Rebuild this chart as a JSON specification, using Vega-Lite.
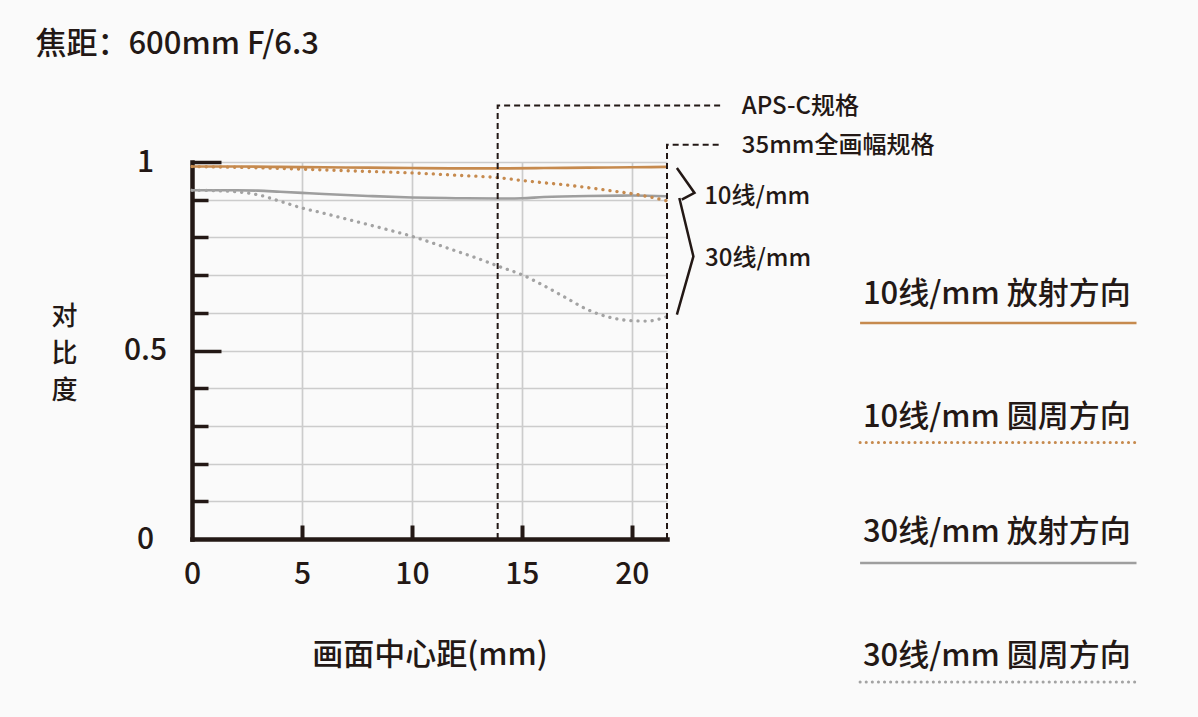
{
  "$schema": "https://vega.github.io/schema/vega-lite/v6.json",
  "width": 475,
  "height": 377,
  "autosize": {"type": "none"},
  "padding": {"left": 192, "top": 162, "right": 531, "bottom": 178},
  "background": "#fafafa",
  "config": {"font": "Noto Sans CJK SC", "view": {"stroke": null}},
  "datasets": {
    "curves": [
      {"series": "10线/mm 放射方向", "kind": "solid", "x": 0, "y": 0.988},
      {"series": "10线/mm 放射方向", "kind": "solid", "x": 2, "y": 0.988},
      {"series": "10线/mm 放射方向", "kind": "solid", "x": 4, "y": 0.987},
      {"series": "10线/mm 放射方向", "kind": "solid", "x": 6, "y": 0.986},
      {"series": "10线/mm 放射方向", "kind": "solid", "x": 8, "y": 0.985},
      {"series": "10线/mm 放射方向", "kind": "solid", "x": 10, "y": 0.984},
      {"series": "10线/mm 放射方向", "kind": "solid", "x": 12, "y": 0.983},
      {"series": "10线/mm 放射方向", "kind": "solid", "x": 14, "y": 0.983},
      {"series": "10线/mm 放射方向", "kind": "solid", "x": 16, "y": 0.984},
      {"series": "10线/mm 放射方向", "kind": "solid", "x": 18, "y": 0.985},
      {"series": "10线/mm 放射方向", "kind": "solid", "x": 20, "y": 0.986},
      {"series": "10线/mm 放射方向", "kind": "solid", "x": 21.6, "y": 0.987},
      {"series": "10线/mm 圆周方向", "kind": "dotted", "x": 0, "y": 0.988},
      {"series": "10线/mm 圆周方向", "kind": "dotted", "x": 2, "y": 0.986},
      {"series": "10线/mm 圆周方向", "kind": "dotted", "x": 4, "y": 0.983},
      {"series": "10线/mm 圆周方向", "kind": "dotted", "x": 6, "y": 0.979},
      {"series": "10线/mm 圆周方向", "kind": "dotted", "x": 8, "y": 0.975},
      {"series": "10线/mm 圆周方向", "kind": "dotted", "x": 10, "y": 0.971},
      {"series": "10线/mm 圆周方向", "kind": "dotted", "x": 12, "y": 0.965},
      {"series": "10线/mm 圆周方向", "kind": "dotted", "x": 14, "y": 0.958},
      {"series": "10线/mm 圆周方向", "kind": "dotted", "x": 15, "y": 0.951},
      {"series": "10线/mm 圆周方向", "kind": "dotted", "x": 16, "y": 0.945},
      {"series": "10线/mm 圆周方向", "kind": "dotted", "x": 17.6, "y": 0.935},
      {"series": "10线/mm 圆周方向", "kind": "dotted", "x": 19, "y": 0.924},
      {"series": "10线/mm 圆周方向", "kind": "dotted", "x": 20, "y": 0.916},
      {"series": "10线/mm 圆周方向", "kind": "dotted", "x": 21, "y": 0.905},
      {"series": "10线/mm 圆周方向", "kind": "dotted", "x": 21.6, "y": 0.897},
      {"series": "30线/mm 放射方向", "kind": "solid", "x": 0, "y": 0.925},
      {"series": "30线/mm 放射方向", "kind": "solid", "x": 2, "y": 0.925},
      {"series": "30线/mm 放射方向", "kind": "solid", "x": 3, "y": 0.924},
      {"series": "30线/mm 放射方向", "kind": "solid", "x": 4, "y": 0.921},
      {"series": "30线/mm 放射方向", "kind": "solid", "x": 5, "y": 0.918},
      {"series": "30线/mm 放射方向", "kind": "solid", "x": 6, "y": 0.915},
      {"series": "30线/mm 放射方向", "kind": "solid", "x": 8, "y": 0.91},
      {"series": "30线/mm 放射方向", "kind": "solid", "x": 10, "y": 0.906},
      {"series": "30线/mm 放射方向", "kind": "solid", "x": 12, "y": 0.904},
      {"series": "30线/mm 放射方向", "kind": "solid", "x": 14, "y": 0.903},
      {"series": "30线/mm 放射方向", "kind": "solid", "x": 15, "y": 0.904},
      {"series": "30线/mm 放射方向", "kind": "solid", "x": 16, "y": 0.907},
      {"series": "30线/mm 放射方向", "kind": "solid", "x": 18, "y": 0.91},
      {"series": "30线/mm 放射方向", "kind": "solid", "x": 20, "y": 0.911},
      {"series": "30线/mm 放射方向", "kind": "solid", "x": 21.6, "y": 0.909},
      {"series": "30线/mm 圆周方向", "kind": "dotted", "x": 0, "y": 0.925},
      {"series": "30线/mm 圆周方向", "kind": "dotted", "x": 1, "y": 0.924},
      {"series": "30线/mm 圆周方向", "kind": "dotted", "x": 2, "y": 0.921},
      {"series": "30线/mm 圆周方向", "kind": "dotted", "x": 3, "y": 0.913},
      {"series": "30线/mm 圆周方向", "kind": "dotted", "x": 4, "y": 0.896},
      {"series": "30线/mm 圆周方向", "kind": "dotted", "x": 5, "y": 0.878},
      {"series": "30线/mm 圆周方向", "kind": "dotted", "x": 6, "y": 0.864},
      {"series": "30线/mm 圆周方向", "kind": "dotted", "x": 7, "y": 0.849},
      {"series": "30线/mm 圆周方向", "kind": "dotted", "x": 8, "y": 0.834},
      {"series": "30线/mm 圆周方向", "kind": "dotted", "x": 9, "y": 0.819},
      {"series": "30线/mm 圆周方向", "kind": "dotted", "x": 10, "y": 0.803},
      {"series": "30线/mm 圆周方向", "kind": "dotted", "x": 11, "y": 0.784},
      {"series": "30线/mm 圆周方向", "kind": "dotted", "x": 12, "y": 0.764},
      {"series": "30线/mm 圆周方向", "kind": "dotted", "x": 13, "y": 0.744},
      {"series": "30线/mm 圆周方向", "kind": "dotted", "x": 14, "y": 0.722},
      {"series": "30线/mm 圆周方向", "kind": "dotted", "x": 15, "y": 0.701},
      {"series": "30线/mm 圆周方向", "kind": "dotted", "x": 16, "y": 0.672},
      {"series": "30线/mm 圆周方向", "kind": "dotted", "x": 17, "y": 0.64},
      {"series": "30线/mm 圆周方向", "kind": "dotted", "x": 18, "y": 0.608},
      {"series": "30线/mm 圆周方向", "kind": "dotted", "x": 19, "y": 0.588},
      {"series": "30线/mm 圆周方向", "kind": "dotted", "x": 20, "y": 0.579},
      {"series": "30线/mm 圆周方向", "kind": "dotted", "x": 20.7, "y": 0.578},
      {"series": "30线/mm 圆周方向", "kind": "dotted", "x": 21.6, "y": 0.59}
    ],
    "refs": [
      {"id": "aps", "i": 0, "x": 13.9, "y": 0},
      {"id": "aps", "i": 1, "x": 13.9, "y": 1.15},
      {"id": "aps", "i": 2, "x": 24.1, "y": 1.15},
      {"id": "ff", "i": 0, "x": 21.6, "y": 0},
      {"id": "ff", "i": 1, "x": 21.6, "y": 1.046},
      {"id": "ff", "i": 2, "x": 24.1, "y": 1.046}
    ],
    "brackets": [
      {"id": "b1", "i": 0, "x": 22.05, "y": 0.984},
      {"id": "b1", "i": 1, "x": 22.85, "y": 0.918},
      {"id": "b1", "i": 2, "x": 22.27, "y": 0.9},
      {"id": "b2", "i": 0, "x": 22.16, "y": 0.9045},
      {"id": "b2", "i": 1, "x": 22.8, "y": 0.7496},
      {"id": "b2", "i": 2, "x": 22.05, "y": 0.595}
    ],
    "notes": [
      {"label": "APS-C规格", "x": 25.0, "y": 1.147},
      {"label": "35mm全画幅规格", "x": 25.0, "y": 1.0435},
      {"label": "10线/mm", "x": 23.29, "y": 0.906},
      {"label": "30线/mm", "x": 23.33, "y": 0.7425}
    ],
    "legendLines": [
      {"series": "10线/mm 放射方向", "kind": "solid", "x": 30.38, "y": 0.573},
      {"series": "10线/mm 放射方向", "kind": "solid", "x": 42.95, "y": 0.573},
      {"series": "10线/mm 圆周方向", "kind": "dotted", "x": 30.38, "y": 0.256},
      {"series": "10线/mm 圆周方向", "kind": "dotted", "x": 42.95, "y": 0.256},
      {"series": "30线/mm 放射方向", "kind": "solid", "x": 30.38, "y": -0.0637},
      {"series": "30线/mm 放射方向", "kind": "solid", "x": 42.95, "y": -0.0637},
      {"series": "30线/mm 圆周方向", "kind": "dotted", "x": 30.38, "y": -0.379},
      {"series": "30线/mm 圆周方向", "kind": "dotted", "x": 42.95, "y": -0.379}
    ],
    "legendText": [
      {"label": "10线/mm 放射方向", "x": 30.51, "y": 0.648},
      {"label": "10线/mm 圆周方向", "x": 30.51, "y": 0.322},
      {"label": "30线/mm 放射方向", "x": 30.51, "y": 0.016},
      {"label": "30线/mm 圆周方向", "x": 30.51, "y": -0.312}
    ],
    "titleText": [
      {"label": "焦距：600mm F/6.3", "x": -7.12, "y": 1.311}
    ]
  },
  "layer": [
    {
      "data": {"name": "curves"},
      "transform": [{"filter": "datum.kind == 'solid'"}],
      "mark": {"type": "line", "interpolate": "monotone", "strokeWidth": 2.6},
      "encoding": {
        "x": {
          "field": "x", "type": "quantitative",
          "scale": {"domain": [0, 21.6], "nice": false, "zero": false},
          "axis": {
            "orient": "bottom", "values": [0, 5, 10, 15, 20], "format": "d",
            "domain": true, "domainColor": "#231815", "domainWidth": 4.5, "domainCap": "square",
            "ticks": false,
            "grid": true, "gridColor": "#cccccc", "gridWidth": 1.7,
            "labelFontSize": 30, "labelFontWeight": 500, "labelColor": "#231815", "labelPadding": 35, "labelBaseline": "middle",
            "labelFlush": false, "labelOverlap": false, "labelBound": false,
            "title": "画面中心距(mm)", "titleFontSize": 31, "titleFontWeight": 500, "titleColor": "#231815",
            "titleY": 116, "titleBaseline": "middle", "titlePadding": 0,
            "zindex": 0
          }
        },
        "y": {
          "field": "y", "type": "quantitative",
          "scale": {"domain": [0, 1], "nice": false, "zero": false},
          "axis": {
            "orient": "left", "values": [0, 0.1, 0.2, 0.3, 0.4, 0.5, 0.6, 0.7, 0.8, 0.9, 1],
            "domain": true, "domainColor": "#231815", "domainWidth": 4.5, "domainCap": "square",
            "ticks": false,
            "grid": true, "gridColor": "#cccccc", "gridWidth": 1.7,
            "labelExpr": "datum.value == 0 ? '0' : datum.value == 0.5 ? '0.5' : datum.value == 1 ? '1' : ''",
            "labelFontSize": 30, "labelFontWeight": 500, "labelColor": "#231815", "labelPadding": 47, "labelAlign": "center", "labelBaseline": "middle",
            "labelFlush": false, "labelOverlap": false, "labelBound": false,
            "title": ["对", "比", "度"], "titleAngle": 0, "titleX": -128, "titleY": 154,
            "titleAlign": "center", "titleBaseline": "middle", "titleFontSize": 26, "titleLineHeight": 37,
            "titleFontWeight": 500, "titleColor": "#231815",
            "zindex": 0
          }
        },
        "color": {
          "field": "series", "type": "nominal",
          "scale": {"domain": ["10线/mm 放射方向", "10线/mm 圆周方向", "30线/mm 放射方向", "30线/mm 圆周方向"], "range": ["#c68a4e", "#c68a4e", "#9e9e9e", "#a3a3a3"]},
          "legend": null
        }
      }
    },
    {
      "data": {"name": "curves"},
      "transform": [{"filter": "datum.kind == 'dotted'"}],
      "mark": {"type": "line", "interpolate": "monotone", "strokeWidth": 3.3, "strokeCap": "round", "strokeDash": [0.1, 7]},
      "encoding": {
        "x": {"field": "x", "type": "quantitative", "scale": {"domain": [0, 21.6], "nice": false, "zero": false}, "axis": null},
        "y": {"field": "y", "type": "quantitative", "scale": {"domain": [0, 1], "nice": false, "zero": false}, "axis": null},
        "color": {"field": "series", "type": "nominal", "legend": null}
      }
    },
    {
      "data": {"name": "refs"},
      "mark": {"type": "line", "color": "#231815", "strokeWidth": 2, "strokeDash": [6, 4]},
      "encoding": {
        "x": {
          "field": "x", "type": "quantitative",
          "scale": {"domain": [0, 21.6], "nice": false, "zero": false},
          "axis": {
            "orient": "bottom", "values": [5, 10, 15, 20], "domain": false, "grid": false, "labels": false,
            "ticks": true, "tickSize": -14, "tickWidth": 4, "tickColor": "#231815", "title": null, "zindex": 0
          }
        },
        "y": {
          "field": "y", "type": "quantitative",
          "scale": {"domain": [0, 1], "nice": false, "zero": false},
          "axis": {
            "orient": "left", "values": [0.1, 0.2, 0.3, 0.4, 0.6, 0.7, 0.8, 0.9], "domain": false, "grid": false, "labels": false,
            "ticks": true, "tickSize": -16, "tickWidth": 3.5, "tickColor": "#231815", "title": null, "zindex": 0
          }
        },
        "detail": {"field": "id", "type": "nominal"},
        "order": {"field": "i", "type": "quantitative"}
      }
    },
    {
      "data": {"name": "brackets"},
      "mark": {"type": "line", "color": "#231815", "strokeWidth": 2.5},
      "encoding": {
        "x": {"field": "x", "type": "quantitative", "scale": {"domain": [0, 21.6], "nice": false, "zero": false}, "axis": null},
        "y": {
          "field": "y", "type": "quantitative",
          "scale": {"domain": [0, 1], "nice": false, "zero": false},
          "axis": {
            "orient": "left", "values": [0.5, 1], "domain": false, "grid": false, "labels": false,
            "ticks": true, "tickSize": -29, "tickWidth": 3.5, "tickColor": "#231815", "title": null, "zindex": 0
          }
        },
        "detail": {"field": "id", "type": "nominal"},
        "order": {"field": "i", "type": "quantitative"}
      }
    },
    {
      "data": {"name": "notes"},
      "mark": {"type": "text", "align": "left", "baseline": "middle", "fontSize": 24, "fontWeight": 500, "color": "#231815"},
      "encoding": {
        "x": {"field": "x", "type": "quantitative", "scale": {"domain": [0, 21.6], "nice": false, "zero": false}, "axis": null},
        "y": {"field": "y", "type": "quantitative", "scale": {"domain": [0, 1], "nice": false, "zero": false}, "axis": null},
        "text": {"field": "label", "type": "nominal"}
      }
    },
    {
      "data": {"name": "legendLines"},
      "transform": [{"filter": "datum.kind == 'solid'"}],
      "mark": {"type": "line", "strokeWidth": 2.6},
      "encoding": {
        "x": {"field": "x", "type": "quantitative", "scale": {"domain": [0, 21.6], "nice": false, "zero": false}, "axis": null},
        "y": {"field": "y", "type": "quantitative", "scale": {"domain": [0, 1], "nice": false, "zero": false}, "axis": null},
        "color": {"field": "series", "type": "nominal", "legend": null}
      }
    },
    {
      "data": {"name": "legendLines"},
      "transform": [{"filter": "datum.kind == 'dotted'"}],
      "mark": {"type": "line", "strokeWidth": 3, "strokeCap": "round", "strokeDash": [0.1, 6]},
      "encoding": {
        "x": {"field": "x", "type": "quantitative", "scale": {"domain": [0, 21.6], "nice": false, "zero": false}, "axis": null},
        "y": {"field": "y", "type": "quantitative", "scale": {"domain": [0, 1], "nice": false, "zero": false}, "axis": null},
        "color": {"field": "series", "type": "nominal", "legend": null}
      }
    },
    {
      "data": {"name": "legendText"},
      "mark": {"type": "text", "align": "left", "baseline": "middle", "fontSize": 31, "fontWeight": 500, "color": "#231815"},
      "encoding": {
        "x": {"field": "x", "type": "quantitative", "scale": {"domain": [0, 21.6], "nice": false, "zero": false}, "axis": null},
        "y": {"field": "y", "type": "quantitative", "scale": {"domain": [0, 1], "nice": false, "zero": false}, "axis": null},
        "text": {"field": "label", "type": "nominal"}
      }
    },
    {
      "data": {"name": "titleText"},
      "mark": {"type": "text", "align": "left", "baseline": "middle", "fontSize": 31, "fontWeight": 500, "color": "#231815"},
      "encoding": {
        "x": {"field": "x", "type": "quantitative", "scale": {"domain": [0, 21.6], "nice": false, "zero": false}, "axis": null},
        "y": {"field": "y", "type": "quantitative", "scale": {"domain": [0, 1], "nice": false, "zero": false}, "axis": null},
        "text": {"field": "label", "type": "nominal"}
      }
    }
  ],
  "resolve": {"axis": {"x": "independent", "y": "independent"}}
}
